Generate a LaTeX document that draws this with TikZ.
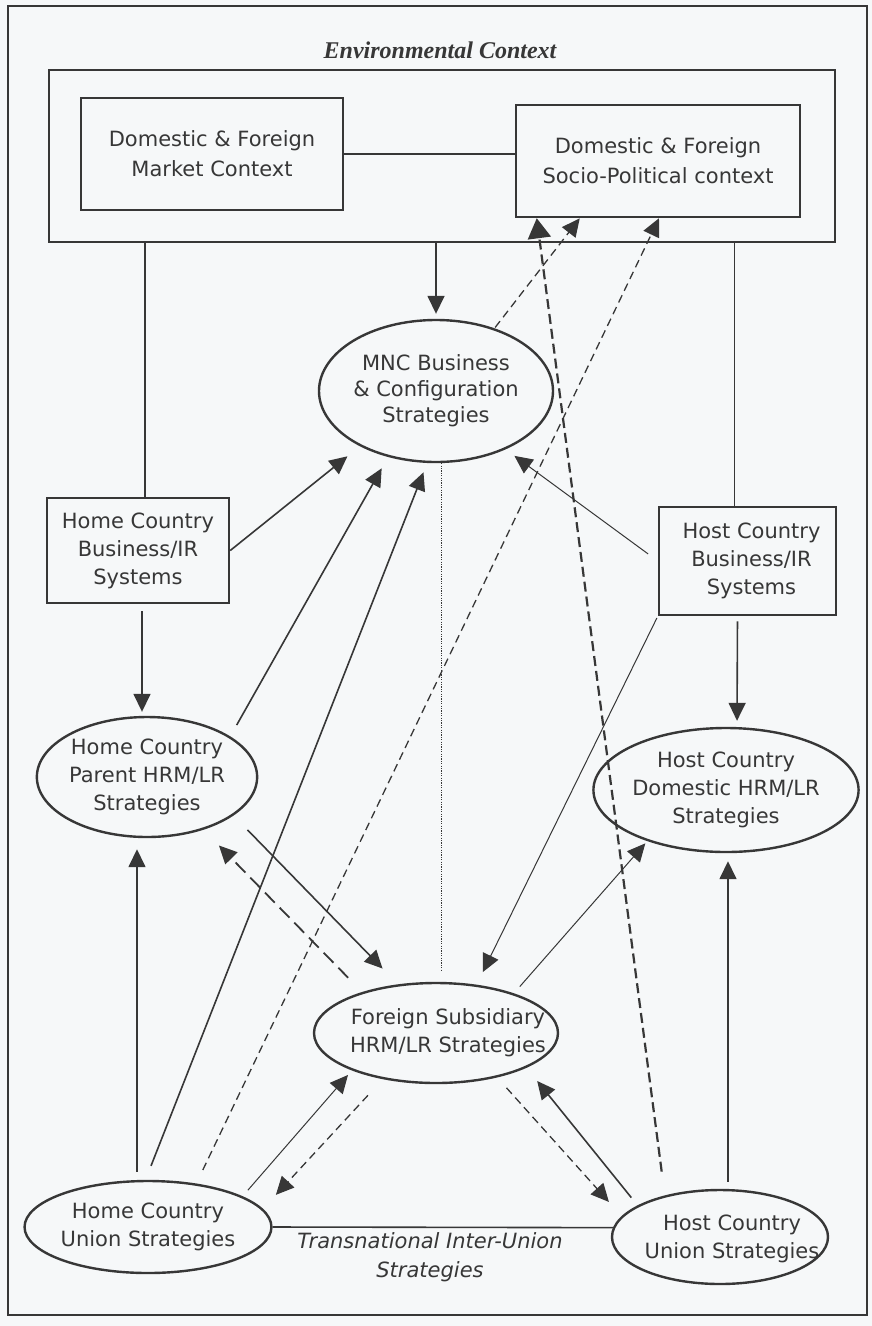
\documentclass[tikz,border=0pt]{standalone}
\usepackage{fontspec}
\setmainfont{DejaVu Sans}
\newfontfamily\titlefont{Liberation Serif}
\usetikzlibrary{arrows.meta,shapes.geometric}
\definecolor{ink}{RGB}{55,55,55}
\definecolor{paper}{RGB}{246,248,249}
\begin{document}
\begin{tikzpicture}[x=1pt,y=-1pt,
  txt/.style={font=\fontsize{21}{28}\selectfont, text=ink, align=center},
  boxnode/.style={draw=ink, line width=2.5pt, rectangle, inner sep=0pt, txt},
  ellnode/.style={draw=ink, line width=2.4pt, ellipse, inner sep=0pt, txt},
  tip/.style={-{Triangle[length=18pt,width=17pt]}},
  bigtip/.style={-{Triangle[length=20pt,width=23pt]}},
  conn/.style={draw=ink, line width=1.6pt},
  thinconn/.style={draw=ink, line width=1pt},
  dashedconn/.style={draw=ink, line width=1.3pt, dash pattern=on 8pt off 5pt},
  longdash/.style={draw=ink, line width=1.8pt, dash pattern=on 14pt off 7pt},
  thickdash/.style={draw=ink, line width=2.2pt, dash pattern=on 10pt off 5pt},
  dotconn/.style={draw=ink, line width=1pt, dash pattern=on 1.2pt off 1.2pt},
]
\fill[paper] (0,0) rectangle (872,1326);
\useasboundingbox (0,0) rectangle (872,1326);
\draw[ink, line width=2.5pt] (8,6) rectangle (867,1315);

\node[font=\titlefont\fontsize{24}{28}\selectfont\bfseries\itshape, text=ink] (envt) at (440,50) {Environmental Context};

\node[boxnode, minimum width=786pt, minimum height=172pt] (env) at (442,156) {};
\node[boxnode, font=\fontsize{21}{30}\selectfont, minimum width=262pt, minimum height=112pt] (mkt) at (212,154) {Domestic \& Foreign\\Market Context};
\node[boxnode, font=\fontsize{21}{30}\selectfont, minimum width=284pt, minimum height=112pt] (soc) at (658,161) {Domestic \& Foreign\\Socio-Political context};

\node[boxnode, minimum width=182pt, minimum height=105pt] (hbus) at (138,550.5) {Home Country\\Business/IR\\Systems};
\node[boxnode, minimum width=177pt, minimum height=108pt] (tbus) at (747.5,561) {\hspace*{8pt}Host Country\\\hspace*{8pt}Business/IR\\\hspace*{8pt}Systems};

\node[ellnode, font=\fontsize{21}{26}\selectfont, minimum width=208pt, minimum height=142pt] (mnc) at (436,391) {MNC Business\\\& Configuration\\Strategies};
\node[ellnode, minimum width=206pt, minimum height=120pt] (hpar) at (147,777) {Home Country\\Parent HRM/LR\\Strategies};
\node[ellnode, minimum width=208pt, minimum height=124pt] (tdom) at (726,790) {Host Country\\Domestic HRM/LR\\Strategies};
\node[ellnode, minimum width=244pt, minimum height=100pt,
  label={[txt, xshift=12pt]center:{Foreign Subsidiary\\HRM/LR Strategies}}] (fsub) at (436,1033) {};
\node[ellnode, minimum width=210pt, minimum height=92pt] (hun) at (148,1227) {Home Country\\Union Strategies};
\node[ellnode, minimum width=216pt, minimum height=94pt,
  label={[txt, xshift=12pt, yshift=-2pt]center:{Host Country\\Union Strategies}}] (tun) at (720,1237) {};

\node[txt, font=\fontsize{21}{29}\selectfont\itshape] (tiu) at (430,1257) {Transnational Inter-Union\\Strategies};

% environment links
\draw[conn] (mkt.east) -- (mkt.east -| soc.west);
\draw[conn] ([xshift=7pt]hbus.north) -- ([xshift=7pt]hbus.north |- env.south);
\draw[conn, tip, shorten >=5pt] (mnc.north |- env.south) -- (mnc.north);
\draw[conn] ([xshift=-13pt]tbus.north) -- ([xshift=-13pt]tbus.north |- env.south);

% into MNC
\draw[conn, tip, shorten >=16pt] (hbus.east) -- (mnc.216);
\draw[conn, tip, shorten <=13pt, shorten >=13pt] (hpar.26) -- (mnc.234);
\draw[conn, tip, shorten <=15pt, shorten >=10pt] (hun.93) -- (mnc.263);
\draw[thinconn, tip, shorten <=12pt, shorten >=11pt] (tbus.west) -- (mnc.320);

% to socio-political context
\draw[dashedconn, tip, shorten <=15pt] (hun.42) -- ([xshift=1pt]soc.south);
\draw[dashedconn, tip, shorten <=1pt] (mnc.47) -- ([xshift=65pt]soc.south west);
\draw[thickdash, bigtip, shorten <=24pt] (tun.143) -- ([xshift=22pt]soc.south west);

% verticals
\draw[conn, tip, shorten <=7pt, shorten >=4pt] ([xshift=4pt]hbus.south) -- ([xshift=-5pt]hpar.north);
\draw[conn, tip, shorten <=5pt, shorten >=6pt] ([xshift=-10pt]tbus.south) -- ([xshift=11pt]tdom.north);
\draw[conn, tip, shorten <=8pt, shorten >=11pt] ([xshift=-11pt]hun.north) -- ([xshift=-10pt]hpar.south);
\draw[conn, tip, shorten <=7pt, shorten >=8pt] ([xshift=8pt]tun.north) -- ([xshift=2pt]tdom.south);
\draw[dotconn, shorten >=10pt] ([xshift=5pt]mnc.south) -- ([xshift=5pt]fsub.north);

% around foreign subsidiary
\draw[thinconn, tip, shorten <=2pt, shorten >=14pt] (tbus.south west) -- (fsub.50);
\draw[conn, tip, shorten <=20pt, shorten >=22pt] (hpar.336) -- (fsub.128);
\draw[longdash, tip, shorten <=20pt, shorten >=22pt] (fsub.151) -- (hpar.317);
\draw[thinconn, tip, shorten <=8pt, shorten >=6pt] (hun.18) -- (fsub.204);
\draw[dashedconn, tip, shorten <=22pt, shorten >=19pt] (fsub.221) -- (hun.9);
\draw[thinconn, tip, shorten <=9pt, shorten >=3pt] (fsub.27) -- (tdom.213);
\draw[dashedconn, tip, shorten <=14pt, shorten >=19pt] (fsub.324) -- (tun.168);
\draw[conn, tip, shorten <=10pt, shorten >=17pt] (tun.159) -- (fsub.339);

% transnational inter-union line
\draw[conn] (hun.east) -- (tun.175);
\end{tikzpicture}
\end{document}
